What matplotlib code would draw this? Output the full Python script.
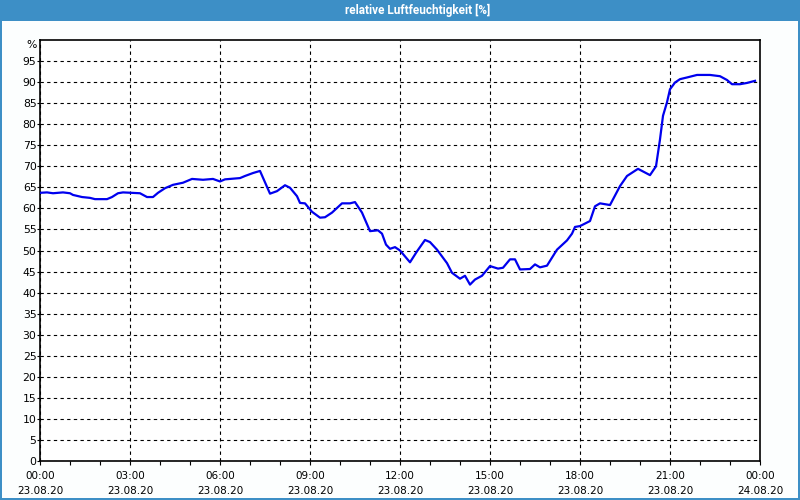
import matplotlib
matplotlib.use("Agg")
import matplotlib.pyplot as plt
from matplotlib.patches import Rectangle
from matplotlib.ticker import MultipleLocator, FixedLocator

# --- data (minutes after 23.08.20 00:00, relative humidity %) ---
time_min = [0, 14, 26, 46, 60, 66, 84, 100, 110, 134, 144, 156, 166, 200, 214, 226,
            236, 250, 266, 286, 304, 326, 346, 360, 370, 400, 410, 426, 440, 460,
            474, 490, 500, 514, 520, 530, 544, 560, 570, 584, 604, 620, 630, 644,
            660, 676, 684, 692, 700, 710, 720, 740, 754, 770, 780, 794, 814, 824,
            840, 850, 860, 870, 884, 900, 916, 926, 940, 950, 960, 980, 990, 1000,
            1014, 1034, 1054, 1064, 1070, 1080, 1100, 1110, 1120, 1140, 1160, 1174,
            1196, 1220, 1232, 1240, 1246, 1254, 1260, 1270, 1280, 1294, 1314, 1340,
            1360, 1374, 1384, 1400, 1414, 1430]
humidity = [63.7, 63.8, 63.6, 63.8, 63.6, 63.2, 62.7, 62.5, 62.2, 62.2, 62.7, 63.6,
            63.8, 63.6, 62.7, 62.7, 63.7, 64.8, 65.6, 66.1, 67.0, 66.8, 67.0, 66.4,
            66.9, 67.2, 67.7, 68.4, 68.9, 63.5, 64.1, 65.5, 64.9, 62.9, 61.3, 61.2,
            59.2, 57.8, 57.9, 59.0, 61.2, 61.2, 61.5, 59.0, 54.6, 54.8, 54.0, 51.4,
            50.4, 50.8, 50.0, 47.2, 49.8, 52.5, 52.0, 50.2, 47.0, 44.7, 43.3, 44.0,
            41.9, 43.1, 44.0, 46.3, 45.7, 45.9, 47.9, 47.9, 45.5, 45.6, 46.7, 46.0,
            46.4, 50.2, 52.4, 54.0, 55.6, 55.8, 57.0, 60.5, 61.2, 60.8, 65.3, 67.7,
            69.4, 67.9, 70.0, 76.4, 82.0, 85.2, 88.3, 89.9, 90.7, 91.1, 91.7, 91.7,
            91.4, 90.5, 89.5, 89.5, 89.8, 90.3]

x_tick_labels = ["00:00\n23.08.20", "03:00\n23.08.20", "06:00\n23.08.20",
                 "09:00\n23.08.20", "12:00\n23.08.20", "15:00\n23.08.20",
                 "18:00\n23.08.20", "21:00\n23.08.20", "00:00\n24.08.20"]
title = "relative Luftfeuchtigkeit [%]"
unit = "%"

W, H = 800, 500
BAR = "#3d8fc6"
fig = plt.figure(figsize=(W / 100, H / 100), dpi=100, facecolor="#fcfefe")

# title bar and frame
fig.patches.append(Rectangle((0, 1 - 21 / H), 1, 21 / H, transform=fig.transFigure,
                             facecolor=BAR, edgecolor="none", zorder=0))
for (x0, y0, w, h) in [(0, 0, 2 / W, 1), (1 - 2 / W, 0, 2 / W, 1), (0, 0, 1, 2 / H)]:
    fig.patches.append(Rectangle((x0, y0), w, h, transform=fig.transFigure,
                                 facecolor=BAR, edgecolor="none", zorder=0))
fig.text(418 / W, 1 - 10.5 / H, title, color="white", ha="center", va="center",
         fontsize=8.5, fontweight="bold", family=["Roboto", "DejaVu Sans"])

ax = fig.add_axes([40 / W, 1 - 461 / H, 720 / W, 421 / H])
ax.set_facecolor("white")
hours = [t / 60 for t in time_min]
ax.plot(hours, humidity, color="#0000ee", lw=1.6, zorder=3, solid_joinstyle="round")

ax.set_xlim(0, 24)
ax.set_ylim(0, 100)
ax.xaxis.set_major_locator(FixedLocator(list(range(0, 25, 3))))
ax.xaxis.set_minor_locator(MultipleLocator(1))
ax.set_xticklabels(x_tick_labels, fontsize=7.5, linespacing=1.7)
ax.yaxis.set_major_locator(FixedLocator(list(range(0, 100, 5))))
ax.set_yticklabels([str(v) for v in range(0, 100, 5)], fontsize=7.8)

ax.grid(True, which="major", color="black", linestyle=(0, (3, 3)), linewidth=0.8)
ax.tick_params(axis="x", which="both", direction="out", length=3, width=0.8,
               color="black", pad=4)
ax.tick_params(axis="y", which="both", direction="out", length=2, width=0.8,
               color="black", pad=0.5)
for s in ax.spines.values():
    s.set_linewidth(1.2)
    s.set_color("black")

ax.text(-0.004, 1.0, unit, transform=ax.transAxes, ha="right", va="top",
        fontsize=7.8)

fig.savefig("out.png", dpi=100, facecolor=fig.get_facecolor())
